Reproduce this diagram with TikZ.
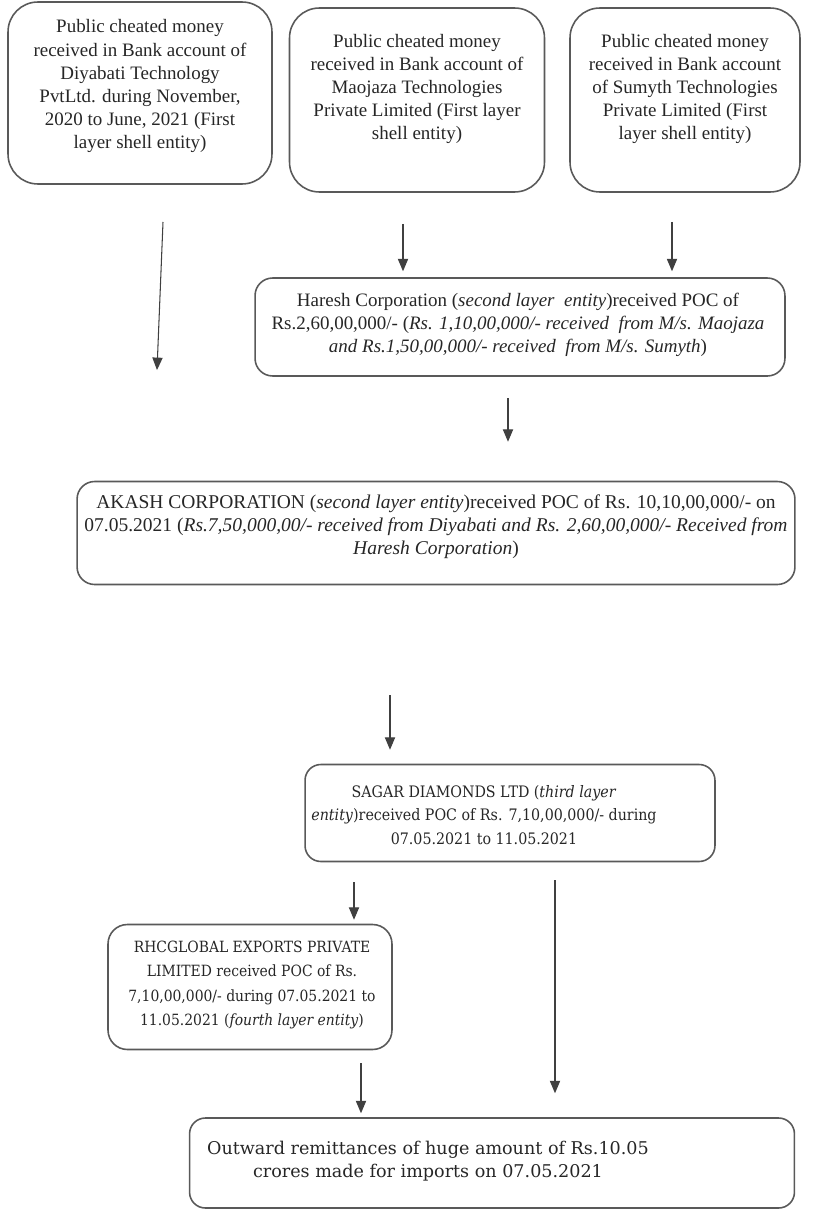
\documentclass[tikz,border=0pt]{standalone}
\usepackage{fontspec}
\setmainfont{Liberation Serif}
\newfontfamily\wideserif[FakeStretch=0.9]{DejaVu Serif}
\newfontfamily\plainwideserif{DejaVu Serif}
\usetikzlibrary{arrows}

\begin{document}
\begin{tikzpicture}[x=0.02cm, y=-0.02cm,
  box/.style={draw=black!65, line width=0.9pt, inner sep=0pt},
  toptext/.style={align=center, text=black!85, font=\fontsize{10.8}{13.1}\selectfont},
  lowtext/.style={align=center, text=black!85, font=\wideserif\fontsize{8.9}{13.3}\selectfont},
  flow/.style={->, >=triangle 45, draw=black!75, line width=0.6pt}]
\useasboundingbox (0,0) rectangle (814,1213);

% first layer
\node[box, rounded corners=17pt, minimum width=5.28cm, minimum height=3.64cm] (DIYA) at (140,93) {};
\node[toptext] (DIYA-T) at (140,86) {Public cheated money\\received in Bank account of\\Diyabati Technology\\PvtLtd. during November,\\2020 to June, 2021 (First\\layer shell entity)};
\node[box, rounded corners=17pt, minimum width=5.10cm, minimum height=3.68cm] (MAOJ) at (417,100) {};
\node[toptext] (MAOJ-T) at (417,89) {Public cheated money\\received in Bank account of\\Maojaza Technologies\\Private Limited (First layer\\shell entity)};
\node[box, rounded corners=17pt, minimum width=4.60cm, minimum height=3.68cm] (SUMY) at (685,100) {};
\node[toptext] (SUMY-T) at (685,89) {Public cheated money\\received in Bank account\\of Sumyth Technologies\\Private Limited (First\\layer shell entity)};

% second layer
\node[box, rounded corners=10pt, minimum width=10.6cm, minimum height=1.96cm] (HARE) at (520,327) {};
\node[toptext] (HARE-T) at (518,325) {Haresh Corporation (\textit{second layer\ \ entity})received POC of\\Rs.2,60,00,000/- (\textit{Rs. 1,10,00,000/- received\ \ from M/s. Maojaza}\\\textit{and Rs.1,50,00,000/- received\ \ from M/s. Sumyth})};
\node[box, rounded corners=10pt, minimum width=14.36cm, minimum height=2.06cm] (AKAS) at (436,533) {};
\node[toptext, font=\fontsize{11.1}{13.1}\selectfont] (AKAS-T) at (436,527) {AKASH CORPORATION (\textit{second layer entity})received POC of Rs. 10,10,00,000/- on\\07.05.2021 (\textit{Rs.7,50,000,00/- received from Diyabati and Rs. 2,60,00,000/- Received from}\\\textit{Haresh Corporation})};

% third and fourth layer
\node[box, rounded corners=9pt, minimum width=8.2cm, minimum height=1.94cm] (SAGA) at (510,813) {};
\node[lowtext, font=\wideserif\fontsize{9.0}{13.3}\selectfont] (SAGA-T) at (484,815) {SAGAR DIAMONDS LTD (\textit{third layer}\\\textit{entity})received POC of Rs. 7,10,00,000/- during\\07.05.2021 to 11.05.2021};
\node[box, rounded corners=11pt, minimum width=5.68cm, minimum height=2.5cm] (RHCG) at (250,987) {};
\node[lowtext, font=\wideserif\fontsize{8.8}{13.8}\selectfont] (RHCG-T) at (252,985) {RHCGLOBAL EXPORTS PRIVATE\\LIMITED received POC of Rs.\\7,10,00,000/- during 07.05.2021 to\\11.05.2021 (\textit{fourth layer entity})};
\node[box, rounded corners=9pt, minimum width=12.1cm, minimum height=1.8cm] (OUTW) at (492,1163) {};
\node[lowtext, font=\plainwideserif\fontsize{10}{13.1}\selectfont] (OUTW-T) at (428,1161) {Outward remittances of huge amount of Rs.10.05\\crores made for imports on 07.05.2021};

% arrows
\coordinate (A1) at (163,222); \coordinate (A2) at (157,370);
\coordinate (B1) at (403,224); \coordinate (C1) at (672,222);
\coordinate (D1) at (508,398); \coordinate (E1) at (390,695);
\coordinate (F1) at (354,882); \coordinate (G1) at (555,880);
\coordinate (H1) at (361,1063);
\draw[flow] (A1) -- (A2);
\draw[flow, shorten >=0.12cm] (B1) -- (B1 |- HARE.north);
\draw[flow, shorten >=0.12cm] (C1) -- (C1 |- HARE.north);
\draw[flow, shorten >=0.78cm] (D1) -- (D1 |- AKAS.north);
\draw[flow, shorten >=0.28cm] (E1) -- (E1 |- SAGA.north);
\draw[flow, shorten >=0.08cm] (F1) -- (F1 |- RHCG.north);
\draw[flow, shorten >=0.48cm] (G1) -- (G1 |- OUTW.north);
\draw[flow, shorten >=0.08cm] (H1) -- (H1 |- OUTW.north);

\end{tikzpicture}
\end{document}
